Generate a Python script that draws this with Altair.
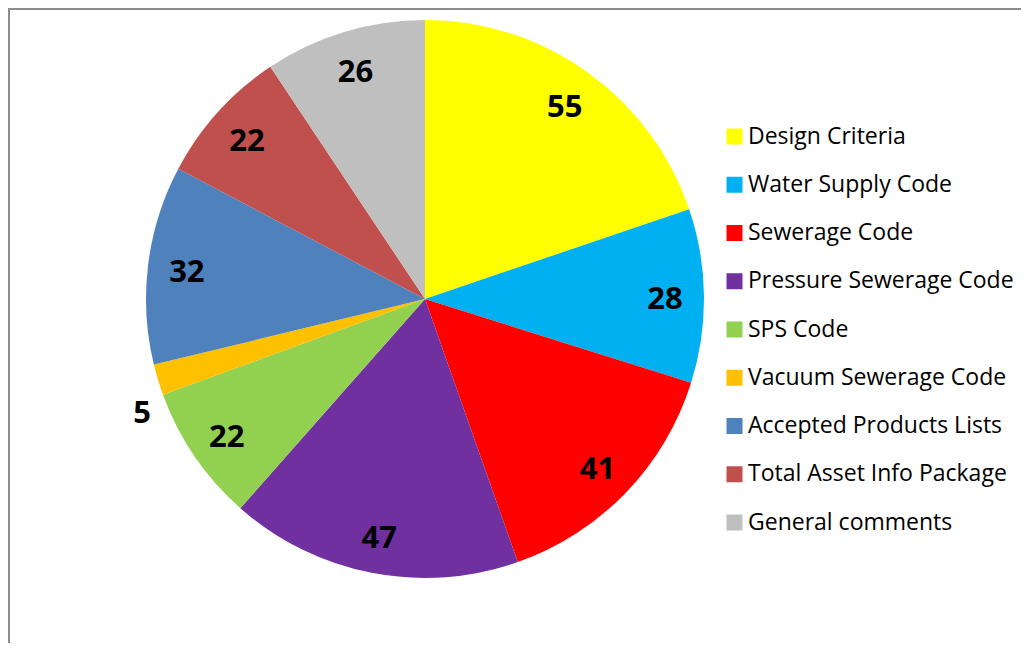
import altair as alt
import pandas as pd

categories = ["Design Criteria", "Water Supply Code", "Sewerage Code",
              "Pressure Sewerage Code", "SPS Code", "Vacuum Sewerage Code",
              "Accepted Products Lists", "Total Asset Info Package", "General comments"]
values = [55, 28, 41, 47, 22, 5, 32, 22, 26]
colors = ["#FFFF00", "#00B0F0", "#FF0000", "#7030A0", "#92D050",
          "#FFC000", "#4F81BD", "#C0504D", "#BFBFBF"]

df = pd.DataFrame({"category": categories, "value": values,
                   "idx": list(range(len(categories)))})
total = sum(values)

W, H = 1013, 635
CX, CY, R = 417, 291, 279

base = alt.Chart(df)

color = alt.Color("category:N",
                  scale=alt.Scale(domain=categories, range=colors),
                  sort=categories,
                  legend=alt.Legend(title=None, orient="none", legendX=715, legendY=117,
                                    symbolType="square", symbolSize=256,
                                    symbolStrokeWidth=0,
                                    labelFont="Open Sans", labelFontSize=23,
                                    labelColor="#000000", labelOffset=2,
                                    rowPadding=24.25, labelLimit=400))

pie = base.mark_arc(outerRadius=R, stroke=None).encode(
    theta=alt.Theta("value:Q", stack=True),
    color=color,
    order=alt.Order("idx:Q"),
    x=alt.value(CX), y=alt.value(CY),
)

lab_base = base.transform_window(
    cum="sum(value)", sort=[alt.SortField("idx")], frame=[None, 0]
).transform_calculate(
    ang=f"2 * PI * (datum.cum - datum.value / 2) / {total}",
)

text_style = dict(font="Open Sans", fontSize=31, fontWeight="bold", color="#000000",
                  baseline="middle", align="center")

labels_in = lab_base.transform_filter("datum.value >= 10").mark_text(
    dy=4, **text_style).encode(
    theta=alt.Theta("ang:Q", scale=None),
    radius=alt.value(240),
    text=alt.Text("value:Q"),
    x=alt.value(CX), y=alt.value(CY),
)

labels_out = lab_base.transform_filter("datum.value < 10").mark_text(
    dx=9, dy=27, **text_style).encode(
    theta=alt.Theta("ang:Q", scale=None),
    radius=alt.value(305),
    text=alt.Text("value:Q"),
    x=alt.value(CX), y=alt.value(CY),
)

frame_top = alt.Chart(pd.DataFrame({"a": [0]})).mark_rule(color="#8C8C8C", strokeWidth=2).encode(
    x=alt.value(0), x2=alt.value(W), y=alt.value(1))
frame_left = alt.Chart(pd.DataFrame({"a": [0]})).mark_rule(color="#8C8C8C", strokeWidth=2).encode(
    x=alt.value(1), y=alt.value(0), y2=alt.value(H))

chart = alt.layer(pie, labels_in, labels_out, frame_top, frame_left).properties(
    width=W, height=H, padding=0,
    autosize=alt.AutoSizeParams(type="none"),
    background="white",
).configure_view(strokeWidth=0)

chart.save("out.html", embed_options={"renderer": "svg", "actions": False})
